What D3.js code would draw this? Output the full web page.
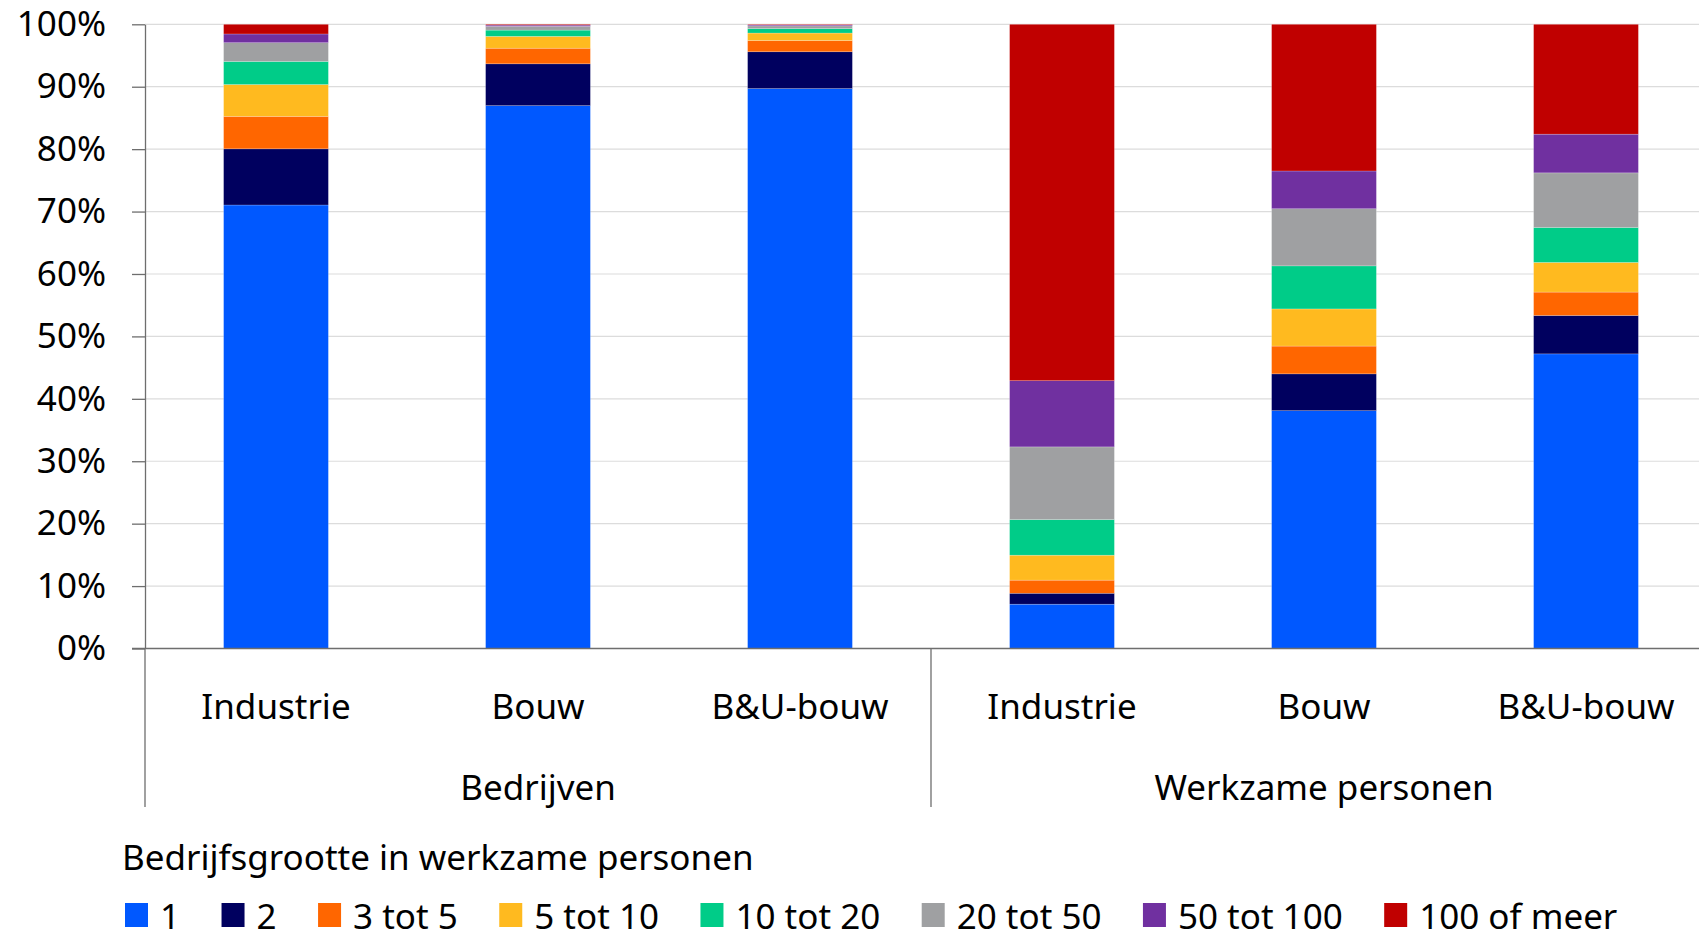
<!DOCTYPE html>
<html>
<head>
<meta charset="utf-8">
<script src="https://cdn.jsdelivr.net/npm/d3@7"></script>
<style>
  body { margin: 0; background: #fff; }
  svg text { font-family: "Noto Sans", "Open Sans", sans-serif; fill: #000; }
</style>
</head>
<body>
<div id="chart"></div>
<script>
// bars, left to right
const categories = ["Industrie", "Bouw", "B&U-bouw", "Industrie", "Bouw", "B&U-bouw"];
const groups = ["Bedrijven", "Werkzame personen"];
const sizeClasses = ["1", "2", "3 tot 5", "5 tot 10", "10 tot 20", "20 tot 50", "50 tot 100", "100 of meer"];
const colors = ["#0058ff", "#00005f", "#ff6600", "#ffba1f", "#00cc88", "#9fa0a2", "#7030a0", "#c00000"];
const yTicks = [0, 0.1, 0.2, 0.3, 0.4, 0.5, 0.6, 0.7, 0.8, 0.9, 1];

// share (%) per size class, one value per bar
const size1 = [71.05, 86.97, 89.7, 7.1, 38.1, 47.2];
const size2 = [9.0, 6.7, 5.9, 1.75, 5.9, 6.15];
const size3to5 = [5.2, 2.5, 1.8, 2.1, 4.45, 3.75];
const size5to10 = [5.1, 1.9, 1.2, 4.0, 5.95, 4.75];
const size10to20 = [3.7, 1.0, 0.7, 5.7, 6.9, 5.6];
const size20to50 = [3.0, 0.6, 0.45, 11.65, 9.15, 8.75];
const size50to100 = [1.4, 0.2, 0.15, 10.6, 6.05, 6.2];
const size100plus = [1.55, 0.13, 0.1, 57.1, 23.5, 17.6];
const seriesValues = [size1, size2, size3to5, size5to10, size10to20, size20to50, size50to100, size100plus];

const width = 1699, height = 932;
const left = 145, step = 262;
const y0 = 648.5, y1 = 24.3;

const svg = d3.select("#chart").append("svg")
    .attr("width", width)
    .attr("height", height);

const x = d3.scaleBand()
    .domain(d3.range(categories.length))
    .range([left, left + step * categories.length])
    .paddingInner(0.6)
    .paddingOuter(0.3);

const y = d3.scaleLinear()
    .domain([0, 1])
    .range([y0, y1]);

// table for d3.stack
const table = categories.map((c, i) => {
    const row = { idx: i };
    sizeClasses.forEach((s, k) => row[s] = seriesValues[k][i] / 100);
    return row;
});
const stacked = d3.stack().keys(sizeClasses)(table);

// gridlines
svg.append("g")
    .selectAll("line")
    .data(yTicks.slice(1))
    .enter().append("line")
    .attr("x1", left)
    .attr("x2", width)
    .attr("y1", d => y(d))
    .attr("y2", d => y(d))
    .attr("stroke", "#dcdcdc")
    .attr("stroke-width", 1.2);

// bars
svg.append("g")
    .selectAll("g")
    .data(stacked)
    .enter().append("g")
    .attr("fill", (d, i) => colors[i])
    .selectAll("rect")
    .data(d => d)
    .enter().append("rect")
    .attr("x", d => x(d.data.idx))
    .attr("width", x.bandwidth())
    .attr("y", d => y(d[1]))
    .attr("height", d => y(d[0]) - y(d[1]))
    .attr("stroke", "#ffffff")
    .attr("stroke-opacity", 0.35)
    .attr("stroke-width", 0.6);

// y axis
const yAxis = svg.append("g")
    .attr("transform", `translate(${left},0)`)
    .call(d3.axisLeft(y)
        .tickValues(yTicks)
        .tickFormat(d3.format(".0%"))
        .tickSize(13)
        .tickSizeOuter(0)
        .tickPadding(26));
yAxis.select(".domain").attr("stroke", "#6e6e6e").attr("stroke-width", 1.3);
yAxis.selectAll(".tick line").attr("stroke", "#6e6e6e").attr("stroke-width", 1.3);
yAxis.selectAll(".tick text")
    .style("font-size", "35px")
    .attr("fill", "#000");

// x axis baseline
svg.append("line")
    .attr("x1", left - 13)
    .attr("x2", width)
    .attr("y1", y(0))
    .attr("y2", y(0))
    .attr("stroke", "#6e6e6e")
    .attr("stroke-width", 1.3);

// group separators
svg.append("g")
    .selectAll("line")
    .data(d3.range(groups.length + 1))
    .enter().append("line")
    .attr("x1", d => left + d * step * 3)
    .attr("x2", d => left + d * step * 3)
    .attr("y1", y(0))
    .attr("y2", 807)
    .attr("stroke", "#6e6e6e")
    .attr("stroke-width", 1.3);

// category labels
svg.append("g")
    .selectAll("text")
    .data(categories)
    .enter().append("text")
    .attr("x", (d, i) => x(i) + x.bandwidth() / 2)
    .attr("y", 705)
    .attr("text-anchor", "middle")
    .attr("dominant-baseline", "central")
    .style("font-size", "35px")
    .text(d => d);

// group labels
svg.append("g")
    .selectAll("text")
    .data(groups)
    .enter().append("text")
    .attr("x", (d, i) => left + step * 3 * i + step * 1.5)
    .attr("y", 786)
    .attr("text-anchor", "middle")
    .attr("dominant-baseline", "central")
    .style("font-size", "35px")
    .text(d => d);

// legend
svg.append("text")
    .attr("x", 122)
    .attr("y", 856)
    .attr("dominant-baseline", "central")
    .style("font-size", "35px")
    .text("Bedrijfsgrootte in werkzame personen");

const legend = svg.append("g");
let lx = 125;
sizeClasses.forEach((s, i) => {
    const item = legend.append("g").attr("transform", `translate(${lx},903)`);
    item.append("rect")
        .attr("width", 23)
        .attr("height", 24)
        .attr("fill", colors[i]);
    const t = item.append("text")
        .attr("x", 35)
        .attr("y", 12)
        .attr("dominant-baseline", "central")
        .style("font-size", "35px")
        .text(s);
    lx += 35 + t.node().getComputedTextLength() + 41.5;
});
</script>
</body>
</html>
